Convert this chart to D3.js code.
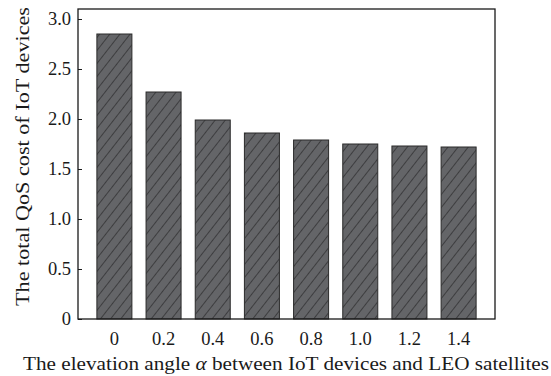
<!DOCTYPE html>
<html>
<head>
<meta charset="utf-8">
<script src="https://cdn.jsdelivr.net/npm/d3@7"></script>
<style>
  body { margin: 0; background: #fff; }
  svg text { font-family: "Liberation Serif", "Times New Roman", Tinos, Times, serif; fill: #1a1a1a; }
</style>
</head>
<body>
<div id="vis"></div>
<script>
const angles = ['0', '0.2', '0.4', '0.6', '0.8', '1.0', '1.2', '1.4'];
const qosCost = [2.85, 2.27, 1.99, 1.86, 1.79, 1.75, 1.73, 1.72];
const yTicks = [0, 0.5, 1.0, 1.5, 2.0, 2.5, 3.0];
const yTickLabels = ['0', '0.5', '1.0', '1.5', '2.0', '2.5', '3.0'];

const W = 551, H = 376;
const margin = { top: 9, right: 56, bottom: 57, left: 78 };
const width = W - margin.left - margin.right;
const height = H - margin.top - margin.bottom;
const serif = '"Liberation Serif", "Times New Roman", Tinos, Times, serif';

const svg = d3.select('#vis')
    .append('svg')
    .attr('width', W)
    .attr('height', H)
    .attr('font-family', serif);

// hatch pattern for the bars
const defs = svg.append('defs');
const pat = defs.append('pattern')
    .attr('id', 'hatch')
    .attr('patternUnits', 'userSpaceOnUse')
    .attr('width', 8)
    .attr('height', 8)
    .attr('patternTransform', 'rotate(38)');
pat.append('rect').attr('width', 8).attr('height', 8).attr('fill', '#646568');
pat.append('line')
    .attr('x1', 0).attr('y1', 0).attr('x2', 0).attr('y2', 8)
    .attr('stroke', '#222').attr('stroke-width', 1.2);

const g = svg.append('g')
    .attr('transform', `translate(${margin.left},${margin.top})`);

const xScale = d3.scaleBand()
    .domain(angles)
    .range([0, width])
    .paddingInner(0.288)
    .paddingOuter(0.384);

const yScale = d3.scaleLinear()
    .domain([0, 3.1])
    .range([height, 0]);

// bars
g.selectAll('.bar')
    .data(angles)
    .join('rect')
    .attr('class', 'bar')
    .attr('x', d => xScale(d))
    .attr('y', (d, i) => yScale(qosCost[i]))
    .attr('width', xScale.bandwidth())
    .attr('height', (d, i) => yScale(0) - yScale(qosCost[i]))
    .attr('fill', 'url(#hatch)')
    .attr('stroke', '#2a2a2a')
    .attr('stroke-width', 1);

// y axis, ticks pointing inward
const yAxis = d3.axisLeft(yScale)
    .tickValues(yTicks)
    .tickFormat((d, i) => yTickLabels[i])
    .tickSizeInner(-4)
    .tickSizeOuter(0)
    .tickPadding(7);

g.append('g')
    .attr('class', 'axis')
    .call(yAxis)
    .attr('font-family', serif)
    .call(a => a.select('.domain').remove())
    .call(a => a.selectAll('line').attr('stroke', '#1a1a1a').attr('stroke-width', 1))
    .call(a => a.selectAll('text').attr('font-size', 18.5).attr('fill', '#1a1a1a'));

// x axis, labels only
const xAxis = d3.axisBottom(xScale)
    .tickSize(0)
    .tickPadding(13);

g.append('g')
    .attr('class', 'axis')
    .attr('transform', `translate(0,${height})`)
    .call(xAxis)
    .attr('font-family', serif)
    .call(a => a.select('.domain').remove())
    .call(a => a.selectAll('text').attr('font-size', 18.5).attr('fill', '#1a1a1a'));

// frame
g.append('rect')
    .attr('width', width)
    .attr('height', height)
    .attr('fill', 'none')
    .attr('stroke', '#1a1a1a')
    .attr('stroke-width', 1.3);

// axis titles
const xt = svg.append('text')
    .attr('x', 23)
    .attr('y', 370)
    .attr('font-size', 18.5)
    .attr('textLength', 526)
    .attr('lengthAdjust', 'spacingAndGlyphs');
xt.append('tspan').text('The elevation angle ');
xt.append('tspan').attr('font-style', 'italic').text('α');
xt.append('tspan').text(' between IoT devices and LEO satellites');

svg.append('text')
    .attr('transform', 'translate(29,306) rotate(-90)')
    .attr('font-size', 18.5)
    .attr('textLength', 299)
    .attr('lengthAdjust', 'spacingAndGlyphs')
    .text('The total QoS cost of IoT devices');
</script>
</body>
</html>
